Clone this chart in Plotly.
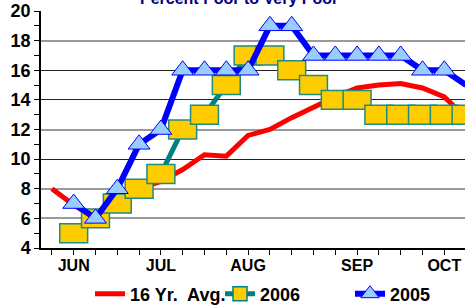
import plotly.graph_objects as go

weeks = list(range(20))
week_labels = ["", "JUN", "", "", "", "JUL", "", "", "", "AUG", "", "", "", "", "SEP", "", "", "", "OCT", ""]
avg16 = [8.0, 6.9, 6.0, 7.2, 8.0, 8.5, 9.3, 10.3, 10.2, 11.6, 12.0, 12.8, 13.5, 14.2, 14.8, 15.0, 15.1, 14.8, 14.2, 12.8]
y2006 = [None, 5, 6, 7, 8, 9, 12, 13, 15, 17, 17, 16, 15, 14, 14, 13, 13, 13, 13, 13]
y2005 = [None, 7, 6, 8, 11, 12, 16, 16, 16, 16, 19, 19, 17, 17, 17, 17, 17, 16, 16, 15]
y_ticks = [4, 6, 8, 10, 12, 14, 16, 18, 20]
grid_gray = [6, 8, 12, 18]
grid_black = [10, 14, 16, 20]
title = "Percent Poor to Very Poor"

FONT = "Liberation Sans, Arial, sans-serif"
box_h = 1.28
box_w = 1.28

fig = go.Figure()
fig.add_trace(go.Scatter(x=weeks, y=avg16, name="16 Yr.  Avg.", mode="lines",
                         line=dict(color="#FF0000", width=5), cliponaxis=False,
                         xaxis="x", yaxis="y"))
fig.add_trace(go.Scatter(x=weeks, y=y2006, name="2006", mode="lines+markers",
                         line=dict(color="#008080", width=5),
                         marker=dict(symbol="square", size=14, color="#FFCC00",
                                     line=dict(color="#008080", width=1.5)),
                         cliponaxis=False, xaxis="x", yaxis="y"))
bx = [w for w, v in zip(weeks, y2006) if v is not None]
bv = [v for v in y2006 if v is not None]
fig.add_trace(go.Bar(x=bx, y=[box_h] * len(bv), base=[v - box_h / 2 for v in bv],
                     width=box_w, marker=dict(color="#FFCC00", line=dict(color="#1E8C7E", width=1.5)),
                     showlegend=False, cliponaxis=False, xaxis="x", yaxis="y2", hoverinfo="skip"))
fig.add_trace(go.Scatter(x=weeks, y=y2005, name="2005", mode="lines+markers",
                         line=dict(color="#0000FF", width=6),
                         marker=dict(symbol="triangle-up", size=19, color="#99CCFF",
                                     line=dict(color="#0000FF", width=1)),
                         cliponaxis=False, xaxis="x", yaxis="y3"))

fig.update_layout(
    width=465, height=307,
    margin=dict(l=41, r=0, t=11, b=59, autoexpand=False),
    plot_bgcolor="white", paper_bgcolor="white",
    font=dict(family=FONT, color="black", size=16, weight="bold"),
    showlegend=True,
    legend=dict(orientation="h", x=(90 - 41) / 424, y=-46 / 237, xanchor="left", yanchor="middle",
                entrywidth=85, entrywidthmode="pixels",
                font=dict(size=18, family=FONT, weight="bold"),
                bgcolor="rgba(0,0,0,0)", itemsizing="trace", tracegroupgap=0),
    xaxis=dict(range=[-0.5, 18.95], tickmode="array", tickvals=weeks, ticktext=week_labels,
               ticks="outside", ticklen=5, tickcolor="black", showgrid=False,
               showline=True, linecolor="black", linewidth=1.5, ticklabelstandoff=-3,
               tickfont=dict(size=16, family=FONT, weight="bold"), zeroline=False),
    yaxis=dict(range=[4, 20], tickmode="array", tickvals=grid_gray, showticklabels=False,
               ticks="", showgrid=True, gridcolor="#9A9A9A", gridwidth=2, zeroline=False),
    yaxis2=dict(range=[4, 20], overlaying="y", tickmode="array", tickvals=grid_black,
                showticklabels=False, ticks="", showgrid=True, gridcolor="#222222",
                gridwidth=1, zeroline=False),
    yaxis3=dict(range=[4, 20], overlaying="y", tickmode="array", tickvals=y_ticks,
                ticks="outside", ticklen=5, tickcolor="black", showgrid=False,
                showline=True, linecolor="black", linewidth=1.5,
                minor=dict(ticks="outside", dtick=1, ticklen=5, tickcolor="black"),
                tickfont=dict(size=18, family=FONT, weight="bold"), zeroline=False),
)
fig.add_annotation(text=title, xref="paper", yref="paper", x=(239 - 41) / 424,
                   y=1 + (11 + 2) / 237, yanchor="middle", showarrow=False,
                   font=dict(size=16, color="#000080", family=FONT, weight="bold"))
fig.write_html("out.html", config={"displayModeBar": False},
               post_script="document.body.style.margin='0';document.body.style.overflow='hidden';")
